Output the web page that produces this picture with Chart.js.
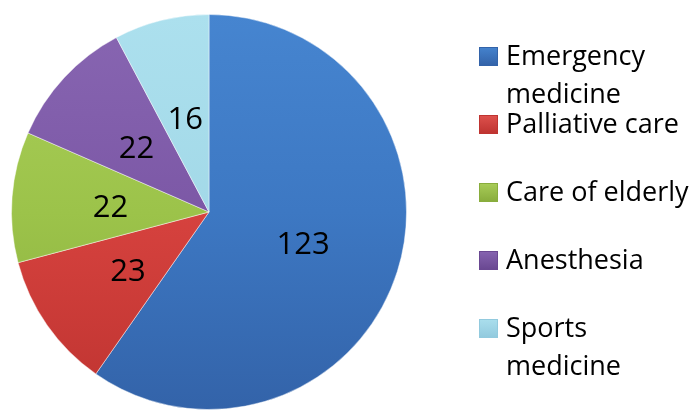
<!DOCTYPE html>
<html>
<head>
<meta charset="utf-8">
<script src="https://cdn.jsdelivr.net/npm/chart.js@4.4.0/dist/chart.umd.min.js"></script>
<style>
  html, body { margin: 0; padding: 0; background: #fff; }
  #wrap { width: 696px; height: 412px; }
</style>
</head>
<body>
<div id="wrap"><canvas id="pie" width="696" height="412"></canvas></div>
<script>
const categories = ['Emergency medicine', 'Palliative care', 'Care of elderly', 'Anesthesia', 'Sports medicine'];
const counts = [123, 23, 22, 22, 16];

// fill colours per slice: light, base, dark
const shades = [
  ['#4685d0', '#3d78c3', '#3363a9'],
  ['#e0534f', '#d6423e', '#bf3431'],
  ['#abcf5a', '#9cc34a', '#89ad3d'],
  ['#8866b2', '#7c58a6', '#6a4892'],
  ['#ace0ee', '#a3d9e8', '#92cade']
];

const FONT = '"Open Sans", "DejaVu Sans", sans-serif';

function sliceFill(c) {
  const s = shades[c.dataIndex];
  const area = c.chart.chartArea;
  if (!area) return s[1];
  const g = c.chart.ctx.createLinearGradient(0, area.top, 0, area.bottom);
  g.addColorStop(0, s[0]);
  g.addColorStop(0.5, s[1]);
  g.addColorStop(1, s[2]);
  return g;
}

// numbers inside the slices
const sliceLabels = {
  id: 'sliceLabels',
  afterDatasetsDraw(chart) {
    const ctx = chart.ctx;
    const meta = chart.getDatasetMeta(0);
    ctx.save();
    ctx.font = '31px ' + FONT;
    ctx.fillStyle = '#000';
    ctx.textAlign = 'center';
    ctx.textBaseline = 'middle';
    meta.data.forEach((arc, i) => {
      const mid = (arc.startAngle + arc.endAngle) / 2;
      const r = arc.outerRadius * 0.5;
      ctx.fillText(String(chart.data.datasets[0].data[i]), arc.x + Math.cos(mid) * r, arc.y + Math.sin(mid) * r + 4);
    });
    ctx.restore();
  }
};

// legend on the right, wrapped like the original
const sideLegend = {
  id: 'sideLegend',
  afterDraw(chart) {
    const ctx = chart.ctx;
    const boxX = 479, box = 19, textX = 506, maxW = 190;
    ctx.save();
    ctx.font = '27px ' + FONT;
    ctx.textBaseline = 'alphabetic';
    chart.data.labels.forEach((label, i) => {
      const y = 65 + i * 68;
      const s = shades[i];
      const g = ctx.createLinearGradient(0, y - box, 0, y);
      g.addColorStop(0, s[0]);
      g.addColorStop(1, s[2]);
      ctx.fillStyle = g;
      ctx.fillRect(boxX, y - box + 1, box, box);
      ctx.strokeStyle = s[2];
      ctx.lineWidth = 1;
      ctx.strokeRect(boxX + 0.5, y - box + 1.5, box - 1, box - 1);

      const words = label.split(' ');
      const lines = [];
      let cur = '';
      words.forEach(w => {
        const t = cur ? cur + ' ' + w : w;
        if (cur && ctx.measureText(t).width > maxW) { lines.push(cur); cur = w; }
        else cur = t;
      });
      lines.push(cur);
      ctx.fillStyle = '#000';
      lines.forEach((ln, k) => ctx.fillText(ln, textX, y + k * 38));
    });
    ctx.restore();
  }
};

new Chart(document.getElementById('pie'), {
  type: 'pie',
  data: {
    labels: categories,
    datasets: [{
      data: counts,
      backgroundColor: sliceFill,
      borderColor: 'rgba(255,255,255,0.45)',
      borderWidth: 1
    }]
  },
  options: {
    responsive: false,
    animation: false,
    devicePixelRatio: 1,
    layout: { padding: { left: 11, right: 289, top: 14, bottom: 2 } },
    plugins: {
      legend: { display: false },
      tooltip: { enabled: false }
    }
  },
  plugins: [sliceLabels, sideLegend]
});
</script>
</body>
</html>
